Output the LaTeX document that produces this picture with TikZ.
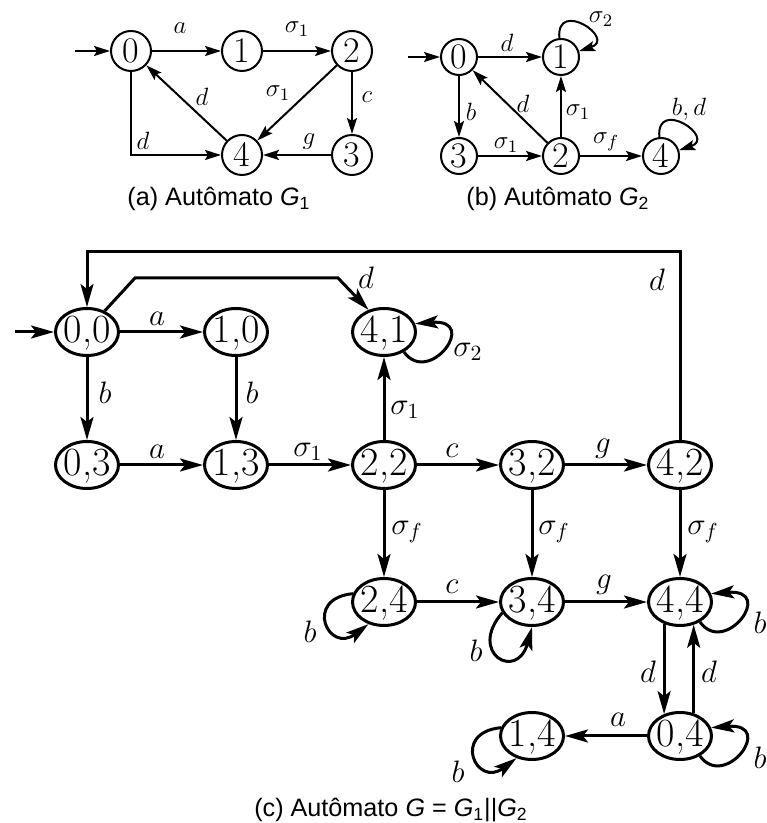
\RequirePackage{fix-cm}
\documentclass[tikz,border=0pt]{standalone}
\usepackage{fontspec}
\newfontfamily\capfont{Liberation Sans}
\usetikzlibrary{arrows.meta,shapes.geometric}
\newcommand{\nt}[2][0.32em]{\makebox[0pt]{\raisebox{-#1}[0pt][0pt]{#2}}}
\tikzset{
  snode/.style={circle, draw, line width=1pt, minimum size=20pt, inner sep=0pt, font=\fontsize{18}{20}\selectfont},
  tnode/.style={snode, minimum size=18pt},
  sarr/.style={line width=1pt, -{Stealth[length=8pt,width=5pt,inset=1.5pt]}},
  cnode/.style={ellipse, draw, line width=1.5pt, minimum width=31.5pt, minimum height=23.5pt, inner sep=0pt, font=\fontsize{20}{22}\selectfont},
  carr/.style={line width=1.5pt, -{Stealth[length=11.5pt,width=6.5pt,inset=2.5pt]}},
  slab/.style={inner sep=0pt, font=\fontsize{12.5}{14}\selectfont},
  clab/.style={inner sep=0pt, font=\fontsize{15.5}{18}\selectfont},
  capt/.style={anchor=base, inner sep=0pt, font=\capfont\fontsize{12.6}{15}\selectfont},
}
\begin{document}
\begin{tikzpicture}[x=0.5pt,y=0.5pt]
\useasboundingbox (0,0) rectangle (766,823);
% ---------- G1 ----------
\node[snode] (a0) at (131,772) {\nt{0}};
\node[snode] (a1) at (242,772) {\nt{1}};
\node[snode] (a2) at (352,772) {\nt{2}};
\node[snode] (a3) at (352,668) {\nt{3}};
\node[snode] (a4) at (242,668) {\nt{4}};
\coordinate (as) at (75,772);
\draw[sarr] (as) -- (a0);
\draw[sarr] (a0) -- (a1) node[slab, at={(180,795)}] (la1) {$a$};
\draw[sarr] (a1) -- (a2) node[slab, at={(297,794)}] (la2) {$\sigma_1$};
\draw[sarr] (a2) -- (a4) node[slab, at={(278,730)}] (la3) {$\sigma_1$};
\draw[sarr] (a2) -- (a3) node[slab, at={(367,726)}] (la4) {$c$};
\draw[sarr] (a4) -- (a0) node[slab, at={(202,726)}] (la5) {$d$};
\draw[sarr] (a0.south) |- (a4.west) node[slab, at={(143,682)}] (la6) {$d$};
\draw[sarr] (a3) -- (a4) node[slab, at={(309,681)}] (la7) {$g$};
\node[capt] (capa) at (219,617) {(a) Autômato \textit{G}\textsubscript{1}};
% ---------- G2 ----------
\node[tnode] (b0) at (459,766) {\nt{0}};
\node[tnode] (b1) at (561,766) {\nt{1}};
\node[tnode] (b3) at (459,667) {\nt{3}};
\node[tnode] (b2) at (561,667) {\nt{2}};
\node[tnode] (b4) at (661,667) {\nt{4}};
\coordinate (bs) at (408,766);
\draw[sarr] (bs) -- (b0);
\draw[sarr] (b0) -- (b1) node[slab, at={(507,780)}] (lb1) {$d$};
\draw[sarr] (b1.95) .. controls +(95:40) and +(18:40) .. (b1.18) node[slab, at={(601,804)}] (lb2) {$\sigma_2$};
\draw[sarr] (b0) -- (b3) node[slab, at={(471,711)}] (lb3) {$b$};
\draw[sarr] (b2) -- (b0) node[slab, at={(523,719)}] (lb4) {$d$};
\draw[sarr] (b2) -- (b1) node[slab, at={(578,711)}] (lb5) {$\sigma_1$};
\draw[sarr] (b3) -- (b2) node[slab, at={(506,678)}] (lb6) {$\sigma_1$};
\draw[sarr] (b2) -- (b4) node[slab, at={(606,681)}] (lb7) {$\sigma_f$};
\draw[sarr] (b4.95) .. controls +(95:40) and +(18:40) .. (b4.18) node[slab, at={(689,714)}] (lb8) {$b,d$};
\node[capt] (capb) at (558,617) {(b) Autômato \textit{G}\textsubscript{2}};
% ---------- G ----------
\node[cnode] (n00) at (87,491) {\nt[0.27em]{0,0}};
\node[cnode] (n10) at (236,491) {\nt[0.27em]{1,0}};
\node[cnode] (n41) at (384,491) {\nt[0.27em]{4,1}};
\node[cnode] (n03) at (87,358) {\nt[0.27em]{0,3}};
\node[cnode] (n13) at (236,358) {\nt[0.27em]{1,3}};
\node[cnode] (n22) at (384,358) {\nt[0.27em]{2,2}};
\node[cnode] (n32) at (532,358) {\nt[0.27em]{3,2}};
\node[cnode] (n42) at (680,358) {\nt[0.27em]{4,2}};
\node[cnode] (n24) at (384,221) {\nt[0.27em]{2,4}};
\node[cnode] (n34) at (532,221) {\nt[0.27em]{3,4}};
\node[cnode] (n44) at (680,221) {\nt[0.27em]{4,4}};
\node[cnode] (n14) at (532,87) {\nt[0.27em]{1,4}};
\node[cnode] (n04) at (680,87) {\nt[0.27em]{0,4}};
\coordinate (cs) at (15,491);
\coordinate (tl) at (87,571);
\coordinate (k1) at (135,545);
\coordinate (k2) at (338,545);
\draw[carr] (cs) -- (n00);
\draw[carr] (n00) -- (n10) node[clab, at={(157,504)}] (lc1) {$a$};
\draw[carr] (n00) -- (n03) node[clab, at={(105,430)}] (lc2) {$b$};
\draw[carr] (n10) -- (n13) node[clab, at={(252,430)}] (lc3) {$b$};
\draw[carr] (n03) -- (n13) node[clab, at={(157,371)}] (lc4) {$a$};
\draw[carr] (n13) -- (n22) node[clab, at={(308,371)}] (lc5) {$\sigma_1$};
\draw[carr] (n22) -- (n41) node[clab, at={(405,413)}] (lc6) {$\sigma_1$};
\draw[carr] (n41.-45) .. controls +(25,-35) and +(65,5) .. (n41.15) node[clab, at={(468,471)}] (lc7) {$\sigma_2$};
\draw[carr] (n42.north) |- (tl) -- (n00.north) node[clab, at={(657,543)}] (lc8) {$d$};
\draw[carr] (n00.50) -- (k1) -- (k2) -- (n41.125) node[clab, at={(366,545)}] (lc9) {$d$};
\draw[carr] (n22) -- (n32) node[clab, at={(452,372)}] (lc10) {$c$};
\draw[carr] (n32) -- (n42) node[clab, at={(603,374)}] (lc11) {$g$};
\draw[carr] (n22) -- (n24) node[clab, at={(407,291)}] (lc12) {$\sigma_f$};
\draw[carr] (n32) -- (n34) node[clab, at={(554,291)}] (lc13) {$\sigma_f$};
\draw[carr] (n42) -- (n44) node[clab, at={(703,291)}] (lc14) {$\sigma_f$};
\draw[carr] (n24) -- (n34) node[clab, at={(452,236)}] (lc15) {$c$};
\draw[carr] (n34) -- (n44) node[clab, at={(604,238)}] (lc16) {$g$};
\draw[carr] (n24.165) .. controls +(-50,-5) and +(-40,-30) .. (n24.-125) node[clab, at={(310,191)}] (lc17) {$b$};
\draw[carr] (n34.200) .. controls +(-35,-40) and +(-15,-55) .. (n34.-90) node[clab, at={(476,172)}] (lc18) {$b$};
\draw[carr] (n44.-45) .. controls +(25,-35) and +(65,5) .. (n44.15) node[clab, at={(760,200)}] (lc19) {$b$};
\draw[carr] (n44.234) -- (n04.126) node[clab, at={(648,151)}] (lc20) {$d$};
\draw[carr] (n04.59) -- (n44.-59) node[clab, at={(709,151)}] (lc21) {$d$};
\draw[carr] (n04) -- (n14) node[clab, at={(618,103)}] (lc22) {$a$};
\draw[carr] (n04.-45) .. controls +(25,-35) and +(65,5) .. (n04.15) node[clab, at={(760,65)}] (lc23) {$b$};
\draw[carr] (n14.165) .. controls +(-50,-5) and +(-40,-30) .. (n14.-125) node[clab, at={(458,51)}] (lc24) {$b$};
\node[capt] (capc) at (391,6) {(c) Autômato \textit{G} = \textit{G}\textsubscript{1}||\textit{G}\textsubscript{2}};
\end{tikzpicture}
\end{document}
